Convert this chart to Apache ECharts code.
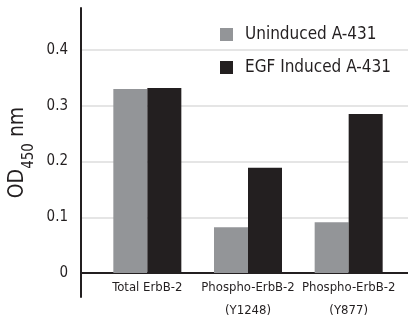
<!DOCTYPE html>
<html>
<head>
<meta charset="utf-8">
<script src="https://cdn.jsdelivr.net/npm/echarts@6/dist/echarts.min.js"></script>
<style>
  html, body { margin: 0; padding: 0; background: #fff; }
  #chart { width: 408px; height: 316px; }
</style>
</head>
<body>
<div id="chart"></div>
<script>
// values
const categories = ['Total ErbB-2', 'Phospho-ErbB-2\n(Y1248)', 'Phospho-ErbB-2\n(Y877)'];
const uninduced = [0.330, 0.082, 0.091];
const egfInduced = [0.332, 0.189, 0.285];
const seriesNames = ['Uninduced A-431', 'EGF Induced A-431'];

const font = '"Liberation Sans Narrow", "DejaVu Sans Condensed", sans-serif';
const ink = '#231f20';

const myChart = echarts.init(document.getElementById('chart'));

const option = {
  animation: false,
  // grid 0: long left axis line, grid 1: gridlines + ticks, grid 2: bars
  grid: [
    { left: 81, right: 0, top: 8, bottom: 19, outerBoundsMode: 'none' },
    { left: 81, right: 0, top: 50, bottom: 43, outerBoundsMode: 'none' },
    { left: 97, right: 9, top: 50, bottom: 43, outerBoundsMode: 'none' }
  ],
  legend: {
    orient: 'vertical',
    left: 215,
    top: 21,
    itemWidth: 13,
    itemHeight: 13,
    itemGap: 16,
    icon: 'rect',
    textStyle: { fontFamily: font, fontSize: 17, color: ink, padding: [0, 0, 0, 7] },
    data: seriesNames
  },
  xAxis: [
    { gridIndex: 0, type: 'category', data: categories, show: false },
    {
      gridIndex: 1, type: 'category', data: categories,
      axisLine: { show: true, lineStyle: { color: ink, width: 2 } },
      axisTick: { show: false },
      axisLabel: { show: false }
    },
    {
      gridIndex: 2, type: 'category', data: categories,
      axisLine: { show: false },
      axisTick: { show: false },
      axisLabel: {
        fontFamily: font, fontSize: 13, color: ink,
        lineHeight: 23, margin: 3, interval: 0
      }
    }
  ],
  yAxis: [
    {
      gridIndex: 0, type: 'value', min: 0, max: 1,
      axisLine: { show: true, lineStyle: { color: ink, width: 2 } },
      axisTick: { show: false },
      axisLabel: { show: false },
      splitLine: { show: false },
      name: '{a|OD}{b|450}{a| nm}',
      nameLocation: 'middle',
      nameRotate: 90,
      nameGap: 44,
      nameTextStyle: {
        rich: {
          a: { fontFamily: font, fontSize: 21, color: ink, lineHeight: 30, verticalAlign: 'top' },
          b: { fontFamily: font, fontSize: 15, color: ink, lineHeight: 30, verticalAlign: 'bottom' }
        }
      }
    },
    {
      gridIndex: 1, type: 'value', min: 0, max: 0.4, interval: 0.1,
      axisLine: { show: false },
      axisTick: { show: false },
      axisLabel: {
        fontFamily: font, fontSize: 15, color: ink, margin: 13,
        formatter: v => (v === 0 ? '0' : v.toFixed(1))
      },
      splitLine: { show: true, lineStyle: { color: '#dcdcdc', width: 1.5 } }
    },
    { gridIndex: 2, type: 'value', min: 0, max: 0.4, show: false }
  ],
  series: [
    {
      name: seriesNames[0], type: 'bar', xAxisIndex: 2, yAxisIndex: 2,
      data: uninduced, barWidth: 34, barGap: '0%',
      itemStyle: { color: '#939598' }
    },
    {
      name: seriesNames[1], type: 'bar', xAxisIndex: 2, yAxisIndex: 2,
      data: egfInduced, barWidth: 34, barGap: '0%',
      itemStyle: { color: ink }
    }
  ]
};

myChart.setOption(option);
</script>
</body>
</html>
